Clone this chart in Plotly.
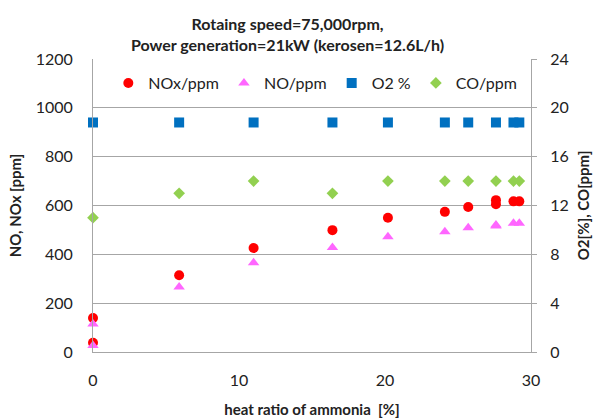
import plotly.graph_objects as go

# NOx / NO (left axis, ppm)
x_nox = [0, 0, 5.9, 11.0, 16.4, 20.2, 24.1, 25.7, 27.6, 27.6, 28.8, 29.2]
nox = [139, 38, 314, 426, 499, 550, 574, 594, 622, 605, 617, 617]
no = [115, 27, 266, 366, 428, 472, 492, 509, 520, 516, 527, 527]

# O2 / CO (right axis)
x_o2 = [0, 5.9, 11.0, 16.4, 20.2, 24.1, 25.7, 27.6, 28.8, 29.2]
o2 = [18.8, 18.8, 18.8, 18.8, 18.8, 18.8, 18.8, 18.8, 18.8, 18.8]
co = [11.0, 13.0, 14.0, 13.0, 14.0, 14.0, 14.0, 14.0, 14.0, 14.0]

left_ticks = [0, 200, 400, 600, 800, 1000, 1200]
right_ticks = [0, 4, 8, 12, 16, 20, 24]
x_ticks = [0, 10, 20, 30]

FONT = "Lato"
GRID = "#A6A6A6"

fig = go.Figure()
fig.add_trace(go.Scatter(x=x_nox, y=nox, mode="markers", name="NOx/ppm",
                         marker=dict(symbol="circle", size=10, color="#FF0000"),
                         cliponaxis=False))
fig.add_trace(go.Scatter(x=x_nox, y=no, mode="markers", name="NO/ppm",
                         marker=dict(symbol="triangle-up", size=10, color="#FF66FF"),
                         cliponaxis=False))
fig.add_trace(go.Scatter(x=x_o2, y=o2, mode="markers", name="O2 %", yaxis="y2",
                         marker=dict(symbol="square", size=10, color="#0070C0"),
                         cliponaxis=False))
fig.add_trace(go.Scatter(x=x_o2, y=co, mode="markers", name="CO/ppm", yaxis="y2",
                         marker=dict(symbol="diamond", size=9, color="#92D050"),
                         cliponaxis=False))

fig.update_layout(
    width=599, height=418,
    margin=dict(l=93, r=68, t=59, b=66, autoexpand=False),
    paper_bgcolor="white", plot_bgcolor="white",
    font=dict(family=FONT, size=16, color="#222222"),
    title=dict(text="<b>Rotaing speed=75,000rpm,<br>Power generation=21kW (kerosen=12.6L/h)</b>",
               x=0.48, xanchor="center", y=0.928, yanchor="top",
               font=dict(family=FONT, size=16, color="#222222")),
    showlegend=True,
    legend=dict(orientation="h", x=0.035, xanchor="left", y=0.918, yanchor="middle",
                bgcolor="rgba(255,255,255,0)", font=dict(family=FONT, size=16),
                itemwidth=30, tracegroupgap=0),
    xaxis=dict(range=[0, 30], tickvals=x_ticks, showgrid=False, zeroline=False,
               showline=True, linecolor=GRID, linewidth=1, ticks="",
               ticklabelstandoff=14, automargin=False,
               title=dict(text="<b>heat ratio of ammonia  [%]</b>",
                          font=dict(family=FONT, size=15), standoff=16)),
    yaxis=dict(range=[0, 1200], tickvals=left_ticks, showgrid=True, gridcolor=GRID,
               gridwidth=1, zeroline=False, showline=True, linecolor=GRID, linewidth=1,
               ticks="", ticklabelstandoff=16, automargin=False,
               title=dict(text="<b>NO, NOx [ppm]</b>",
                          font=dict(family=FONT, size=15), standoff=10)),
    yaxis2=dict(range=[0, 24], tickvals=right_ticks, overlaying="y", side="right",
                showgrid=False, zeroline=False, showline=True, linecolor=GRID,
                linewidth=1, ticks="outside", ticklen=5, tickcolor=GRID,
                ticklabelstandoff=10, automargin=False,
                title=dict(text="<b>O2[%], CO[ppm]</b>",
                           font=dict(family=FONT, size=15), standoff=10)),
)

fig.write_html("out.html")
